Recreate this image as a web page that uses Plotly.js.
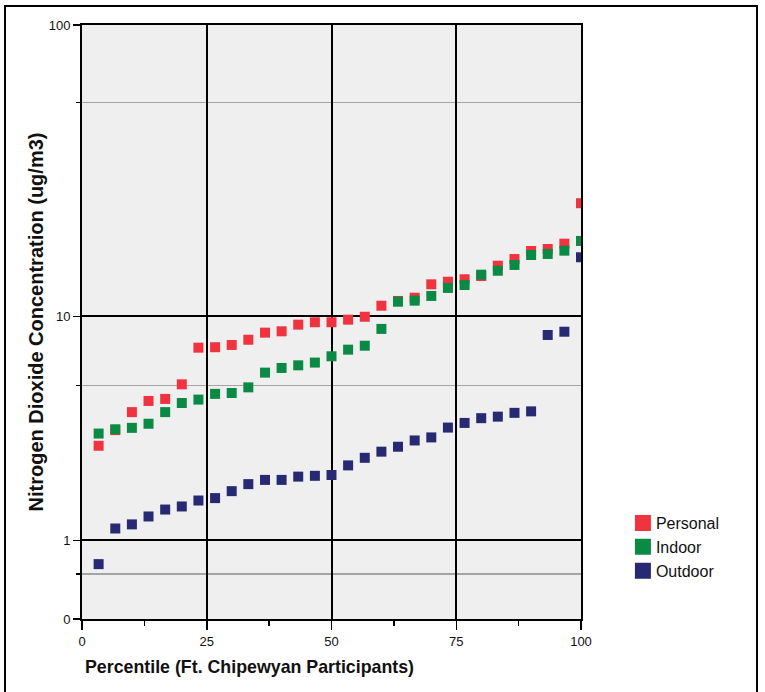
<!DOCTYPE html>
<html>
<head>
<meta charset="utf-8">
<script src="https://cdn.plot.ly/plotly-3.0.1.min.js"></script>
<style>
  html, body { margin: 0; padding: 0; background: #fff; }
  #wrap { position: relative; width: 765px; height: 692px; overflow: hidden; }
  #chart { width: 765px; height: 692px; }
  #frame {
    position: absolute; left: 4px; top: 5px; width: 754px; height: 720px;
    border: 2px solid #000; box-sizing: border-box; pointer-events: none;
  }
</style>
</head>
<body>
<div id="wrap"><div id="chart"></div><div id="frame"></div></div>
<script>
// Percentile rank of each Ft. Chipewyan participant (30 participants)
const percentile = [3.33, 6.67, 10, 13.33, 16.67, 20, 23.33, 26.67, 30, 33.33,
                    36.67, 40, 43.33, 46.67, 50, 53.33, 56.67, 60, 63.33, 66.67,
                    70, 73.33, 76.67, 80, 83.33, 86.67, 90, 93.33, 96.67, 100];

// NO2 concentrations (ug/m3), sorted within each monitoring type
const personal = [3.11, 3.63, 4.31, 4.78, 4.87, 5.56, 7.67, 7.70, 7.85, 8.21,
                  8.72, 8.82, 9.33, 9.52, 9.52, 9.73, 9.97, 10.93, 11.37, 11.68,
                  13.04, 13.32, 13.59, 13.96, 15.18, 16.02, 17.09, 17.37, 18.13, 25.02];
const indoor = [3.51, 3.66, 3.71, 3.86, 4.31, 4.69, 4.84, 5.10, 5.14, 5.41,
                6.17, 6.43, 6.58, 6.74, 7.12, 7.54, 7.80, 9.00, 11.30, 11.40,
                11.85, 12.66, 12.97, 14.11, 14.57, 15.27, 16.55, 16.69, 17.14, 18.53];
const outdoor = [0.67, 1.19, 1.26, 1.40, 1.53, 1.59, 1.71, 1.76, 1.91, 2.07,
                 2.17, 2.17, 2.25, 2.27, 2.29, 2.54, 2.75, 2.93, 3.08, 3.28,
                 3.38, 3.72, 3.89, 4.07, 4.13, 4.28, 4.34, 8.55, 8.79, 16.25];

const seriesNames = ['Personal', 'Indoor', 'Outdoor'];
const seriesColors = ['#f0333f', '#0b8a46', '#272a73'];

const xTickValues = [0, 25, 50, 75, 100];
const xMinorTicks = [12.5, 37.5, 62.5, 87.5];
const yTickValues = [0.1, 1, 10, 100];
const yTickLabels = ['0', '1', '10', '100'];
const yGuideValues = [0.55, 5.5, 55];

// Concentration axis is drawn on log10(c + 1)
const toAxis = c => Math.log10(c + 1);

const FONT = 'Liberation Sans, Arial, Helvetica, sans-serif';
const seriesValues = [personal, indoor, outdoor];

const markerTraces = seriesValues.map((vals, i) => ({
  type: 'scatter',
  mode: 'markers',
  name: seriesNames[i],
  x: percentile,
  y: vals.map(toAxis),
  customdata: vals,
  hovertemplate: '%{x}: %{customdata} ug/m3<extra>' + seriesNames[i] + '</extra>',
  showlegend: false,
  marker: { symbol: 'square', size: 10, color: seriesColors[i], line: { width: 0 } }
}));

// Legend entries with larger swatches
const legendTraces = seriesNames.map((name, i) => ({
  type: 'scatter',
  mode: 'markers',
  name: name,
  x: [null],
  y: [null],
  hoverinfo: 'skip',
  marker: { symbol: 'square', size: 18, color: seriesColors[i], line: { width: 0 } }
}));

const layout = {
  width: 765,
  height: 692,
  margin: { l: 82, r: 184, t: 25, b: 73 },
  paper_bgcolor: '#ffffff',
  plot_bgcolor: '#efefef',
  font: { family: FONT, size: 13, color: '#111' },
  showlegend: true,
  legend: {
    x: 1.084, xanchor: 'left',
    y: 0.19, yanchor: 'top',
    font: { family: FONT, size: 16, color: '#111' },
    bgcolor: 'rgba(0,0,0,0)',
    tracegroupgap: 0
  },
  xaxis: {
    range: [0, 100],
    tickmode: 'array',
    tickvals: xTickValues,
    ticks: 'outside', ticklen: 9, tickwidth: 1.5, tickcolor: '#000',
    tickfont: { family: FONT, size: 13, color: '#111' },
    showgrid: true, gridcolor: '#000', gridwidth: 2,
    showline: true, linecolor: '#000', linewidth: 2, mirror: true,
    zeroline: false,
    minor: {
      tickmode: 'array', tickvals: xMinorTicks,
      ticks: 'outside', ticklen: 5, tickwidth: 1.5, tickcolor: '#000',
      showgrid: false
    },
    fixedrange: true
  },
  yaxis: {
    range: [toAxis(0.1), toAxis(100)],
    tickmode: 'array',
    tickvals: yTickValues.map(toAxis),
    ticktext: yTickLabels,
    ticks: 'outside', ticklen: 7, tickwidth: 1.5, tickcolor: '#000',
    tickfont: { family: FONT, size: 13, color: '#111' },
    showgrid: true, gridcolor: '#000', gridwidth: 2,
    showline: true, linecolor: '#000', linewidth: 2, mirror: true,
    zeroline: false,
    minor: {
      tickmode: 'array', tickvals: yGuideValues.map(toAxis),
      ticks: 'outside', ticklen: 4, tickwidth: 1.5, tickcolor: '#000',
      showgrid: true, gridcolor: '#a4a4a4', gridwidth: 1.6
    },
    title: {
      text: 'Nitrogen Dioxide Concentration (ug/m3)',
      font: { family: FONT, size: 20, weight: 'bold', color: '#111' },
      standoff: 0
    },
    fixedrange: true
  },
  annotations: [{
    xref: 'paper', yref: 'paper',
    x: 0.003, xanchor: 'left',
    y: -0.08, yanchor: 'middle',
    showarrow: false,
    text: 'Percentile (Ft. Chipewyan Participants)',
    font: { family: FONT, size: 17.8, weight: 'bold', color: '#111' }
  }]
};

Plotly.newPlot('chart', markerTraces.concat(legendTraces), layout, { staticPlot: true, displayModeBar: false })
  .then(gd => {
    // tighten the gap between legend swatch and label
    gd.querySelectorAll('.legend .legendtext').forEach(t => t.setAttribute('x', 33));
  });
</script>
</body>
</html>
